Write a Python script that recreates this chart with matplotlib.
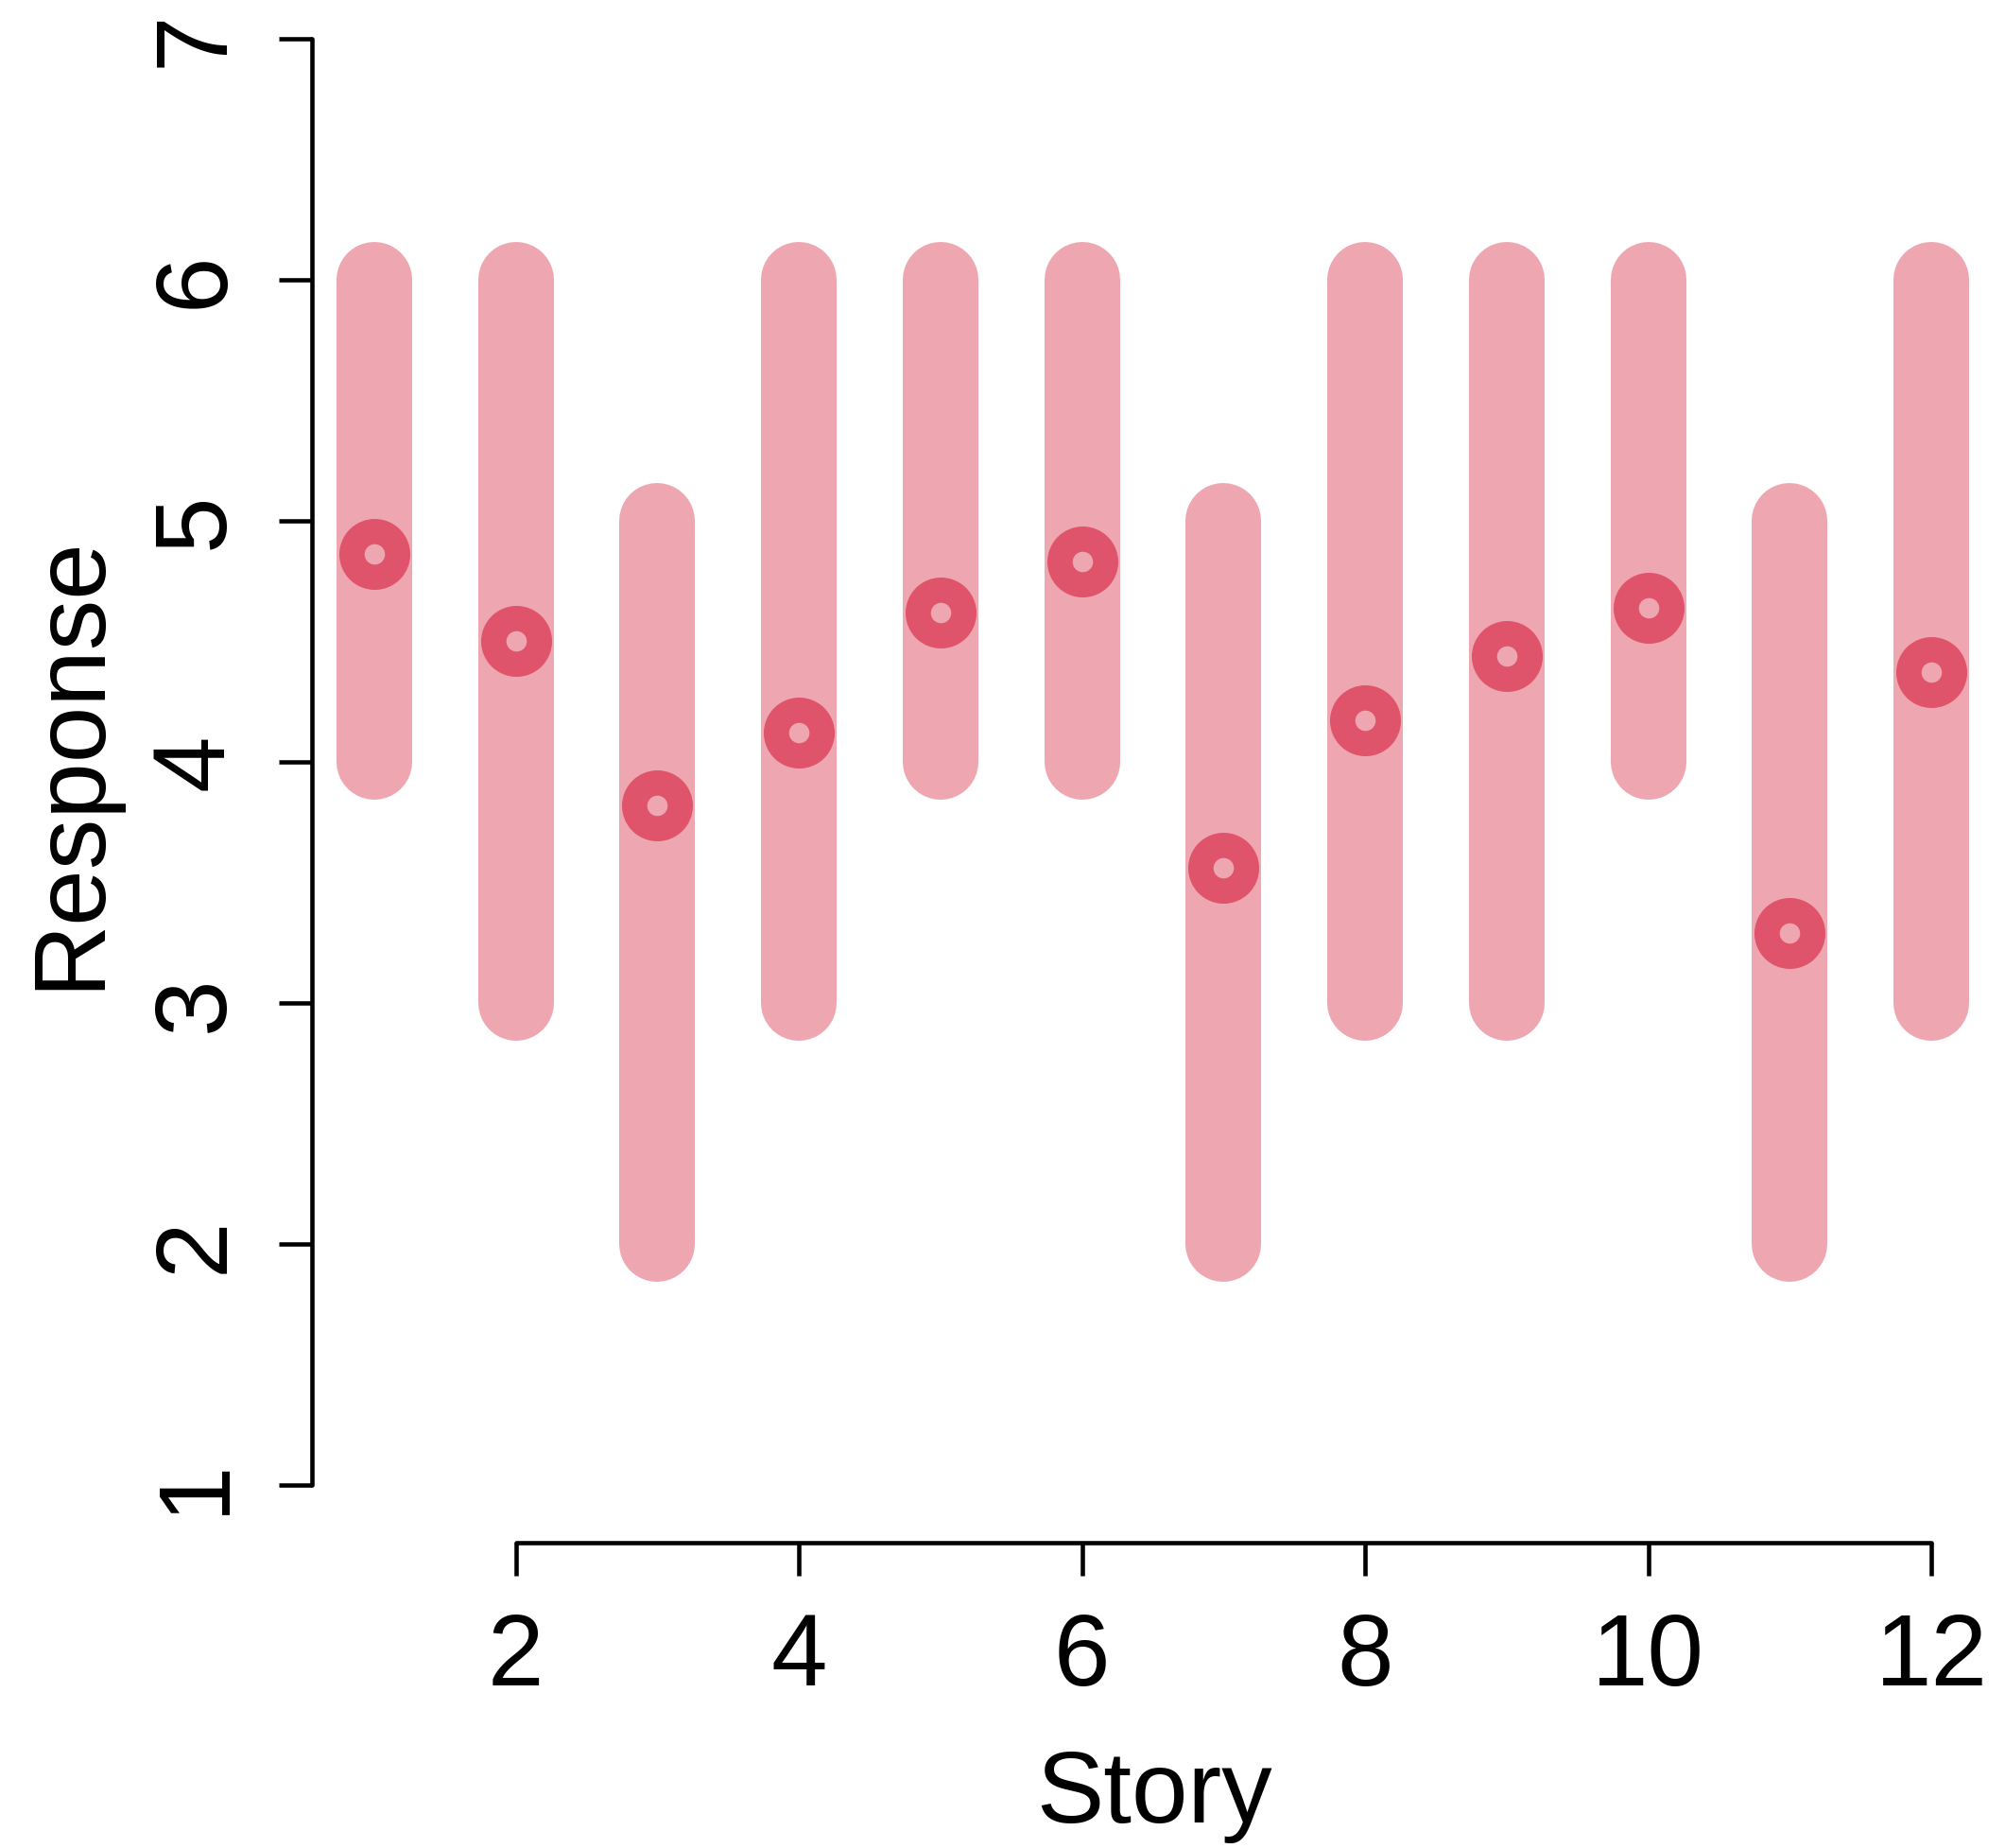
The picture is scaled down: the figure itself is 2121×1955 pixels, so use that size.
import matplotlib
matplotlib.use("Agg")
import matplotlib.pyplot as plt

# per-story response ranges and means
story = [1, 2, 3, 4, 5, 6, 7, 8, 9, 10, 11, 12]
low = [4, 3, 2, 3, 4, 4, 2, 3, 3, 4, 2, 3]
high = [6, 6, 5, 6, 6, 6, 5, 6, 6, 6, 5, 6]
mean = [4.86, 4.50, 3.82, 4.12, 4.62, 4.83, 3.56, 4.17, 4.44, 4.64, 3.29, 4.37]
xticks = [2, 4, 6, 8, 10, 12]
yticks = [1, 2, 3, 4, 5, 6, 7]

plt.rcParams['font.family'] = ['Liberation Sans', 'DejaVu Sans']

W, H = 2121, 1956
fig = plt.figure(figsize=(W / 100, H / 100), dpi=100)
ax = fig.add_axes([330 / W, 323 / H, (2109 - 330) / W, (1633 + 19.5) / H])

bar_col = '#EEA6B1'
pt_col = '#DF536B'

for x, lo, hi in zip(story, low, high):
    ax.plot([x, x], [lo, hi], color=bar_col, lw=57.6, solid_capstyle='round', zorder=1)
ax.plot(story, mean, 'o', ms=34.8, mfc='none', mec=pt_col, mew=19.2, zorder=2)

ax.set_xlim(0.56, 12.44)
ax.set_ylim(0.76, 7.24)

for s in ['top', 'right']:
    ax.spines[s].set_visible(False)
ax.spines['left'].set_bounds(1, 7)
ax.spines['bottom'].set_bounds(2, 12)
for s in ['left', 'bottom']:
    ax.spines[s].set_linewidth(3.3)
    ax.spines[s].set_capstyle('round')

ax.set_xticks(xticks)
ax.set_yticks(yticks)
ax.set_yticklabels([str(v) for v in yticks], rotation=90, va='center')
ax.tick_params(axis='both', length=25, width=3.3, labelsize=77, pad=27)

fig.text(1221 / W, (H - 1928) / H, 'Story', fontsize=77, ha='center', va='baseline')
fig.text(125 / W, 1 - 806 / H, 'Response', fontsize=77, rotation=90,
         ha='right', va='center')

fig.savefig('out.png', dpi=100)
